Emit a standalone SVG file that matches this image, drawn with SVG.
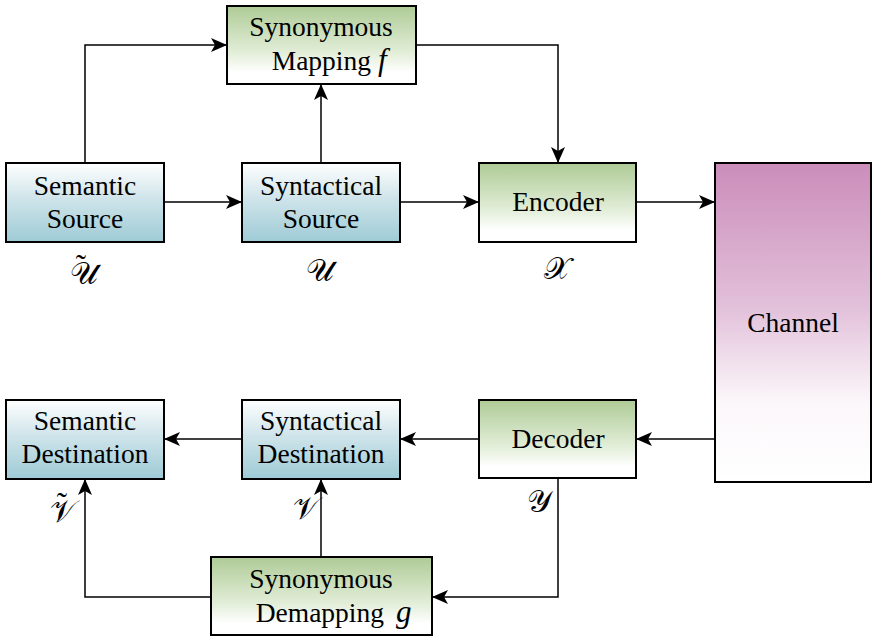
<svg xmlns="http://www.w3.org/2000/svg" width="872" height="636" viewBox="0 0 872 636">
<defs>
<linearGradient id="gBlue" x1="0" y1="0" x2="0" y2="1">
<stop offset="0" stop-color="#ffffff"/>
<stop offset="0.45" stop-color="#cfe4ea"/>
<stop offset="1" stop-color="#9ecbd6"/>
</linearGradient>
<linearGradient id="gGreen" x1="0" y1="0" x2="0" y2="1">
<stop offset="0" stop-color="#aecb96"/>
<stop offset="0.6" stop-color="#e3eed9"/>
<stop offset="0.85" stop-color="#ffffff"/>
<stop offset="1" stop-color="#ffffff"/>
</linearGradient>
<linearGradient id="gPurple" x1="0" y1="0" x2="0" y2="1">
<stop offset="0" stop-color="#cb8dba"/>
<stop offset="0.45" stop-color="#e2c0da"/>
<stop offset="0.75" stop-color="#fbf7fa"/>
<stop offset="1" stop-color="#ffffff"/>
</linearGradient>
<marker id="arr" viewBox="0 0 16 14" refX="16" refY="7" markerWidth="16" markerHeight="14" markerUnits="userSpaceOnUse" orient="auto">
<path d="M0,0 L16,7 L0,14 L4,7 Z" fill="#000"/>
</marker>
</defs>
<style>
.box{stroke:#000;stroke-width:2}
.t{font-family:"Liberation Serif","Times New Roman",serif;font-size:27.5px;fill:#000;text-anchor:middle}
.e{text-anchor:end}
.it{font-family:"Liberation Serif","Times New Roman",serif;font-style:italic;font-size:31px;fill:#000}
.m{font-family:"Liberation Serif","DejaVu Serif",serif;font-size:31px;fill:#000;text-anchor:middle}
.c{fill:none;stroke:#000;stroke-width:1.5}
</style>
<g id="connectors">
<path class="c" d="M85,163 V45 H227" marker-end="url(#arr)"/>
<path class="c" d="M321,163 V84" marker-end="url(#arr)"/>
<path class="c" d="M164,202 H242" marker-end="url(#arr)"/>
<path class="c" d="M400,202 H479" marker-end="url(#arr)"/>
<path class="c" d="M416,45 H558 V163" marker-end="url(#arr)"/>
<path class="c" d="M636,202 H715" marker-end="url(#arr)"/>
<path class="c" d="M715,439 H636" marker-end="url(#arr)"/>
<path class="c" d="M479,439 H400" marker-end="url(#arr)"/>
<path class="c" d="M242,439 H164" marker-end="url(#arr)"/>
<path class="c" d="M558,478 V597 H432" marker-end="url(#arr)"/>
<path class="c" d="M321,557 V479" marker-end="url(#arr)"/>
<path class="c" d="M211,597 H85 V479" marker-end="url(#arr)"/>
</g>
<g id="synonymous-mapping">
<rect class="box" x="227" y="6" width="189" height="78" fill="url(#gGreen)"/>
<text class="t" x="321" y="36">Synonymous</text>
<text class="t e" x="371" y="70">Mapping</text>
<text class="it" x="378" y="70">f</text>
</g>
<g id="semantic-source">
<rect class="box" x="6" y="163" width="158" height="79" fill="url(#gBlue)"/>
<text class="t" x="85" y="195">Semantic</text>
<text class="t" x="85" y="228">Source</text>
</g>
<g id="syntactical-source">
<rect class="box" x="242" y="163" width="158" height="79" fill="url(#gBlue)"/>
<text class="t" x="321" y="195">Syntactical</text>
<text class="t" x="321" y="228">Source</text>
</g>
<g id="encoder">
<rect class="box" x="479" y="163" width="157" height="79" fill="url(#gGreen)"/>
<text class="t" x="558" y="211">Encoder</text>
</g>
<g id="channel">
<rect class="box" x="715" y="163" width="156" height="319" fill="url(#gPurple)"/>
<text class="t" x="793" y="332">Channel</text>
</g>
<g id="decoder">
<rect class="box" x="479" y="400" width="157" height="78" fill="url(#gGreen)"/>
<text class="t" x="558" y="448">Decoder</text>
</g>
<g id="syntactical-destination">
<rect class="box" x="242" y="400" width="158" height="79" fill="url(#gBlue)"/>
<text class="t" x="321" y="430">Syntactical</text>
<text class="t" x="321" y="463">Destination</text>
</g>
<g id="semantic-destination">
<rect class="box" x="6" y="400" width="158" height="79" fill="url(#gBlue)"/>
<text class="t" x="85" y="430">Semantic</text>
<text class="t" x="85" y="463">Destination</text>
</g>
<g id="synonymous-demapping">
<rect class="box" x="211" y="557" width="221" height="78" fill="url(#gGreen)"/>
<text class="t" x="321" y="588">Synonymous</text>
<text class="t e" x="384" y="622">Demapping</text>
<text class="it" x="396" y="622">g</text>
</g>
<g id="labels">
<text class="m" x="84" y="284">𝒰</text>
<text class="m" x="81" y="276">˜</text>
<text class="m" x="320" y="281">𝒰</text>
<text class="m" x="557" y="279">𝒳</text>
<text class="m" x="63" y="522">𝒱</text>
<text class="m" x="62" y="514">˜</text>
<text class="m" x="306" y="519">𝒱</text>
<text class="m" x="539" y="512">𝒴</text>
</g>
</svg>
